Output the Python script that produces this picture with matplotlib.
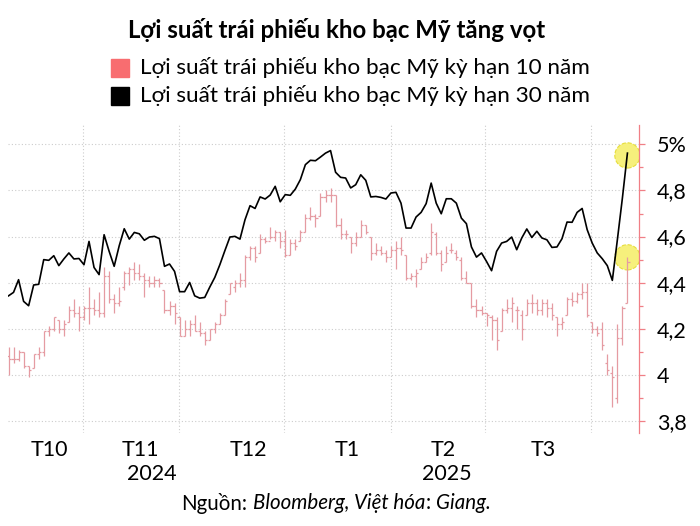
import matplotlib
matplotlib.use('Agg')
import matplotlib.pyplot as plt
import matplotlib.transforms as mtransforms
from matplotlib.patches import Rectangle

plt.rcParams['font.family'] = ['Lato', 'DejaVu Sans']

# 10-year yield, daily bars (high, low, open, close)
high_10y = [4.12, 4.12, 4.11, 4.10, 4.04, 4.09, 4.12, 4.19, 4.21, 4.25,
            4.24, 4.24, 4.30, 4.33, 4.30, 4.30, 4.38, 4.33, 4.36, 4.47,
            4.45, 4.35, 4.38, 4.45, 4.47, 4.49, 4.48, 4.44, 4.43, 4.43,
            4.42, 4.37, 4.32, 4.31, 4.25, 4.24, 4.24, 4.26, 4.23, 4.19,
            4.20, 4.23, 4.27, 4.33, 4.40, 4.41, 4.44, 4.52, 4.56, 4.56,
            4.61, 4.60, 4.64, 4.63, 4.62, 4.63, 4.59, 4.59, 4.63, 4.70,
            4.73, 4.70, 4.79, 4.80, 4.81, 4.78, 4.68, 4.63, 4.60, 4.62,
            4.67, 4.65, 4.60, 4.57, 4.56, 4.54, 4.56, 4.58, 4.60, 4.52,
            4.44, 4.46, 4.51, 4.53, 4.66, 4.62, 4.54, 4.56, 4.57, 4.54,
            4.51, 4.45, 4.40, 4.33, 4.30, 4.27, 4.26, 4.25, 4.29, 4.33,
            4.34, 4.30, 4.28, 4.33, 4.35, 4.33, 4.33, 4.33, 4.31, 4.25,
            4.25, 4.34, 4.36, 4.36, 4.40, 4.40, 4.23, 4.21, 4.23, 4.09,
            4.04, 4.22, 4.30, 4.51]
low_10y = [4.00, 4.05, 4.06, 4.03, 3.99, 4.03, 4.07, 4.08, 4.17, 4.19,
           4.18, 4.17, 4.23, 4.25, 4.19, 4.24, 4.22, 4.26, 4.25, 4.25,
           4.31, 4.27, 4.30, 4.37, 4.39, 4.41, 4.41, 4.34, 4.38, 4.38,
           4.38, 4.27, 4.26, 4.22, 4.17, 4.17, 4.17, 4.19, 4.17, 4.13,
           4.15, 4.18, 4.22, 4.26, 4.35, 4.36, 4.38, 4.38, 4.50, 4.49,
           4.53, 4.57, 4.59, 4.58, 4.55, 4.51, 4.52, 4.54, 4.58, 4.62,
           4.67, 4.64, 4.69, 4.75, 4.75, 4.64, 4.59, 4.59, 4.53, 4.56,
           4.60, 4.61, 4.50, 4.52, 4.52, 4.49, 4.51, 4.46, 4.52, 4.41,
           4.41, 4.38, 4.46, 4.49, 4.52, 4.52, 4.45, 4.49, 4.53, 4.50,
           4.41, 4.40, 4.29, 4.25, 4.26, 4.21, 4.15, 4.11, 4.19, 4.27,
           4.23, 4.20, 4.15, 4.26, 4.27, 4.26, 4.26, 4.25, 4.24, 4.17,
           4.20, 4.26, 4.30, 4.31, 4.33, 4.25, 4.18, 4.17, 4.11, 4.00,
           3.86, 3.88, 4.13, 4.31]
open_10y = [4.08, 4.07, 4.07, 4.10, 4.04, 4.03, 4.09, 4.10, 4.19, 4.20,
            4.24, 4.20, 4.23, 4.28, 4.27, 4.25, 4.29, 4.29, 4.28, 4.27,
            4.43, 4.33, 4.31, 4.38, 4.44, 4.46, 4.44, 4.43, 4.41, 4.40,
            4.41, 4.37, 4.28, 4.30, 4.25, 4.17, 4.20, 4.22, 4.19, 4.18,
            4.15, 4.20, 4.22, 4.26, 4.35, 4.38, 4.40, 4.41, 4.51, 4.55,
            4.53, 4.59, 4.58, 4.60, 4.62, 4.58, 4.52, 4.57, 4.58, 4.62,
            4.68, 4.69, 4.69, 4.77, 4.78, 4.78, 4.65, 4.61, 4.60, 4.57,
            4.60, 4.65, 4.60, 4.53, 4.54, 4.53, 4.51, 4.54, 4.55, 4.52,
            4.42, 4.43, 4.46, 4.49, 4.53, 4.61, 4.53, 4.49, 4.54, 4.53,
            4.50, 4.42, 4.40, 4.30, 4.28, 4.27, 4.25, 4.24, 4.19, 4.28,
            4.29, 4.28, 4.26, 4.26, 4.31, 4.31, 4.28, 4.31, 4.29, 4.25,
            4.22, 4.26, 4.33, 4.32, 4.35, 4.36, 4.23, 4.20, 4.20, 4.05,
            4.01, 3.90, 4.16, 4.31]
close_10y = [4.07, 4.07, 4.10, 4.04, 4.02, 4.09, 4.10, 4.19, 4.20, 4.25,
             4.20, 4.22, 4.28, 4.27, 4.25, 4.29, 4.29, 4.28, 4.27, 4.43,
             4.33, 4.31, 4.32, 4.44, 4.46, 4.44, 4.43, 4.41, 4.40, 4.41,
             4.40, 4.28, 4.30, 4.27, 4.17, 4.20, 4.22, 4.19, 4.18, 4.15,
             4.20, 4.22, 4.26, 4.32, 4.40, 4.40, 4.41, 4.51, 4.55, 4.51,
             4.59, 4.58, 4.60, 4.62, 4.58, 4.52, 4.57, 4.56, 4.62, 4.68,
             4.69, 4.68, 4.77, 4.78, 4.78, 4.65, 4.61, 4.61, 4.57, 4.60,
             4.65, 4.62, 4.53, 4.54, 4.53, 4.51, 4.54, 4.55, 4.54, 4.42,
             4.43, 4.44, 4.49, 4.51, 4.62, 4.53, 4.48, 4.53, 4.54, 4.51,
             4.42, 4.40, 4.30, 4.28, 4.27, 4.26, 4.24, 4.15, 4.28, 4.29,
             4.31, 4.28, 4.20, 4.31, 4.31, 4.28, 4.31, 4.29, 4.26, 4.22,
             4.23, 4.33, 4.32, 4.35, 4.36, 4.26, 4.20, 4.18, 4.13, 4.02,
             3.99, 4.16, 4.29, 4.49]

# 30-year yield, daily close
close_30y = [4.343, 4.358, 4.413, 4.319, 4.300, 4.390, 4.393, 4.500, 4.497, 4.517,
             4.474, 4.503, 4.529, 4.503, 4.505, 4.478, 4.579, 4.466, 4.435, 4.608,
             4.536, 4.471, 4.560, 4.634, 4.589, 4.618, 4.612, 4.584, 4.598, 4.601,
             4.591, 4.471, 4.481, 4.449, 4.361, 4.361, 4.401, 4.343, 4.333, 4.336,
             4.381, 4.423, 4.478, 4.539, 4.598, 4.601, 4.589, 4.673, 4.734, 4.722,
             4.772, 4.763, 4.780, 4.818, 4.751, 4.782, 4.779, 4.806, 4.847, 4.912,
             4.931, 4.929, 4.945, 4.962, 4.973, 4.879, 4.857, 4.854, 4.811, 4.825,
             4.868, 4.844, 4.772, 4.774, 4.770, 4.763, 4.789, 4.792, 4.745, 4.637,
             4.637, 4.685, 4.705, 4.743, 4.832, 4.745, 4.699, 4.764, 4.764, 4.745,
             4.680, 4.656, 4.555, 4.511, 4.529, 4.492, 4.452, 4.536, 4.572, 4.579,
             4.598, 4.543, 4.594, 4.633, 4.596, 4.623, 4.594, 4.586, 4.553, 4.555,
             4.591, 4.663, 4.662, 4.705, 4.722, 4.630, 4.572, 4.529, 4.504, 4.474,
             4.410, 4.586, 4.767, 4.962]

month_labels = ['T10', 'T11', 'T12', 'T1', 'T2', 'T3']
month_label_pos = [8.1, 26.2, 47.6, 67.3, 86.3, 106.2]
month_edges = [14.8, 33.9, 54.8, 76.0, 94.7, 115.7]
year_labels = ['2024', '2025']
year_label_pos = [28.5, 87.1]
y_ticks = [3.8, 4.0, 4.2, 4.4, 4.6, 4.8, 5.0]
y_tick_labels = ['3,8', '4', '4,2', '4,4', '4,6', '4,8', '5%']
y_minor = [3.9, 4.1, 4.3, 4.5, 4.7, 4.9]

title = 'Lợi suất trái phiếu kho bạc Mỹ tăng vọt'
legend_labels = ['Lợi suất trái phiếu kho bạc Mỹ kỳ hạn 10 năm',
                 'Lợi suất trái phiếu kho bạc Mỹ kỳ hạn 30 năm']

pink = '#e59ba2'
pink_legend = '#f86d70'
axis_red = '#f07f86'
W, H = 700, 526

fig = plt.figure(figsize=(W / 100, H / 100), dpi=100)
ax = fig.add_axes([8 / W, 93 / H, 631 / W, 308 / H])

n = len(close_30y)
x = list(range(n))

# circles behind the last values
ax.scatter([x[-1], x[-1]], [close_30y[-1] - 0.01, high_10y[-1]], s=330,
           facecolor='#f6f07c', edgecolor='#e6de3c', linestyle='--',
           linewidth=0.8, zorder=1)

# OHLC bars for the 10-year
ax.vlines(x, low_10y, high_10y, color=pink, linewidth=0.9, zorder=2)
ax.hlines(open_10y, [i - 0.42 for i in x], x, color=pink, linewidth=0.9, zorder=2)
ax.hlines(close_10y, x, [i + 0.42 for i in x], color=pink, linewidth=0.9, zorder=2)

ax.plot(x, close_30y, color='black', linewidth=1.2, zorder=3)

ax.set_xlim(-0.1, 125.3)
ax.set_ylim(3.748, 5.084)

# axes styling
for side in ['top', 'left', 'bottom']:
    ax.spines[side].set_visible(False)
ax.spines['right'].set_color(axis_red)
ax.spines['right'].set_linewidth(0.9)

ax.yaxis.tick_right()
ax.set_yticks(y_ticks)
ax.set_yticklabels(y_tick_labels)
ax.set_yticks(y_minor, minor=True)
ax.tick_params(axis='y', which='major', colors=axis_red, labelcolor='black',
               length=4, width=0.9, labelsize=15.5, pad=9)
ax.tick_params(axis='y', which='minor', colors=axis_red, length=3, width=0.9)

ax.set_xticks(month_label_pos)
ax.set_xticklabels(month_labels)
ax.set_xticks(month_edges, minor=True)
ax.tick_params(axis='x', which='both', length=0, labelsize=15.5, pad=5)

ax.grid(True, axis='y', which='major', color='#cccccc', linestyle=(0, (1, 2)), linewidth=0.8)
ax.grid(True, axis='x', which='minor', color='#cccccc', linestyle=(0, (1, 2)), linewidth=0.8)
ax.set_axisbelow(True)

year_tr = mtransforms.blended_transform_factory(ax.transData, fig.transFigure)
for pos, lab in zip(year_label_pos, year_labels):
    ax.text(pos, 1 - 474 / H, lab, transform=year_tr, ha='center', va='center', fontsize=15.5)

# title and legend
fig.text(337 / W, 1 - 30 / H, title, ha='center', va='center', fontsize=17.3, fontweight='bold')
for k, (lab, col) in enumerate(zip(legend_labels, [pink_legend, 'black'])):
    yc = 68 + 28 * k
    fig.add_artist(Rectangle((111 / W, 1 - (yc + 9) / H), 18 / W, 18 / H,
                             transform=fig.transFigure, color=col))
    fig.text(140 / W, 1 - yc / H, lab, ha='left', va='center', fontsize=16.2)

# source line with italic parts
parts = [('Nguồn:', 'normal', True), ('Bloomberg,', 'italic', True),
         ('Việt hóa', 'italic', False), (':', 'normal', True), ('Giang.', 'italic', False)]
renderer = fig.canvas.get_renderer()
src_size = 14.8
t1 = fig.text(0, 0, 'x x', fontsize=src_size)
t2 = fig.text(0, 0, 'xx', fontsize=src_size)
space = t1.get_window_extent(renderer).width - t2.get_window_extent(renderer).width
t1.remove()
t2.remove()
texts = []
total = 0
for s, style, gap in parts:
    t = fig.text(0, 1 - 503 / H, s, fontsize=src_size, style=style, va='center', ha='left')
    w = t.get_window_extent(renderer).width
    texts.append((t, w, gap))
    total += w + (space if gap else 0)
total -= space if parts[-1][2] else 0
x0 = 336 - total / 2
for t, w, gap in texts:
    t.set_x(x0 / W)
    x0 += w + (space if gap else 0)

fig.savefig('out.png', dpi=100)
